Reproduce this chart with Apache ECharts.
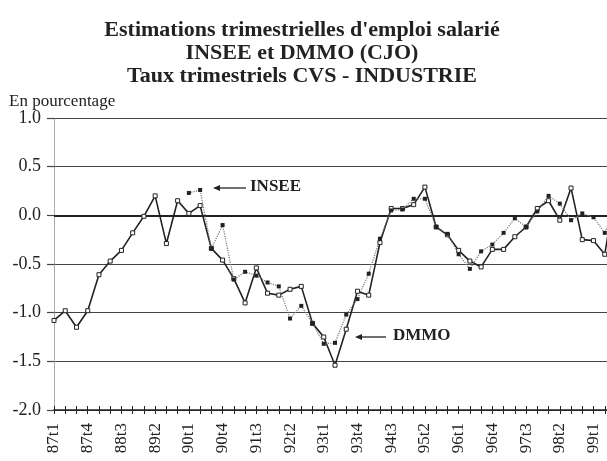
<!DOCTYPE html>
<html>
<head>
<meta charset="utf-8">
<script src="https://cdn.jsdelivr.net/npm/echarts@6/dist/echarts.min.js"></script>
<style>
  html, body { margin: 0; padding: 0; background: #fff; }
  #chart { width: 607px; height: 461px; }
</style>
</head>
<body>
<div id="chart"></div>
<script>
// quarters 87t1 .. 99t3 (the last one falls off the right edge, as in the scan)
const quarters = [
  '87t1', '87t2', '87t3', '87t4', '88t1', '88t2', '88t3', '88t4',
  '89t1', '89t2', '89t3', '89t4', '90t1', '90t2', '90t3', '90t4',
  '91t1', '91t2', '91t3', '91t4', '92t1', '92t2', '92t3', '92t4',
  '93t1', '93t2', '93t3', '93t4', '94t1', '94t2', '94t3', '94t4',
  '95t1', '95t2', '95t3', '95t4', '96t1', '96t2', '96t3', '96t4',
  '97t1', '97t2', '97t3', '97t4', '98t1', '98t2', '98t3', '98t4',
  '99t1', '99t2', '99t3'
];

// DMMO : trait plein, carrés vides
const dmmo = [
  -1.08, -0.98, -1.15, -0.98, -0.61, -0.47, -0.36, -0.18,
  -0.01, 0.20, -0.29, 0.15, 0.02, 0.10, -0.34, -0.46,
  -0.65, -0.90, -0.54, -0.80, -0.82, -0.76, -0.73, -1.11,
  -1.25, -1.54, -1.17, -0.78, -0.82, -0.28, 0.07, 0.07,
  0.11, 0.29, -0.12, -0.20, -0.36, -0.47, -0.53, -0.35,
  -0.35, -0.22, -0.12, 0.07, 0.15, -0.05, 0.28, -0.25,
  -0.26, -0.40, 0.30
];

// INSEE : pointillés, carrés pleins (commence en 90t1)
const insee = [
  null, null, null, null, null, null, null, null,
  null, null, null, null, 0.23, 0.26, -0.34, -0.10,
  -0.66, -0.58, -0.62, -0.69, -0.73, -1.06, -0.93, -1.11,
  -1.32, -1.31, -1.02, -0.86, -0.60, -0.24, 0.05, 0.06,
  0.17, 0.17, -0.12, -0.19, -0.40, -0.55, -0.37, -0.30,
  -0.18, -0.03, -0.12, 0.04, 0.20, 0.12, -0.05, 0.02,
  -0.02, -0.18, 0.10
];

const titleLines = [
  "Estimations trimestrielles d'emploi salarié",
  'INSEE et DMMO (CJO)',
  'Taux trimestriels CVS - INDUSTRIE'
];

const serif = '"Liberation Serif", "DejaVu Serif", serif';
const ink = '#222';

const chart = echarts.init(document.getElementById('chart'));

const arrow = (x1, x2, y) => [
  {
    type: 'line',
    shape: { x1: x1 + 5, y1: y, x2: x2, y2: y },
    style: { stroke: ink, lineWidth: 1.3 }
  },
  {
    type: 'polygon',
    shape: { points: [[x1, y], [x1 + 7, y - 3], [x1 + 7, y + 3]] },
    style: { fill: ink }
  }
];

const option = {
  backgroundColor: '#fff',
  animation: false,
  title: {
    text: titleLines.join('\n'),
    left: 297,
    textAlign: 'center',
    top: 14,
    textStyle: {
      fontFamily: serif,
      fontWeight: 'bold',
      fontSize: 22,
      lineHeight: 23,
      color: ink
    }
  },
  grid: {
    left: 54, width: 562, top: 118, height: 292,
    containLabel: false, outerBoundsMode: 'none'
  },
  xAxis: [
    {
      type: 'category',
      position: 'bottom',
      boundaryGap: false,
      data: quarters,
      axisLine: { onZero: false, lineStyle: { color: ink, width: 1.5 } },
      axisTick: { interval: 0, length: 4, lineStyle: { color: ink, width: 1 } },
      axisLabel: {
        interval: 2,
        rotate: 90,
        margin: 13,
        fontFamily: serif,
        fontSize: 17,
        color: ink
      },
      splitLine: { show: false }
    },
    {
      type: 'category',
      position: 'bottom',
      boundaryGap: false,
      data: quarters,
      axisLine: { show: false, onZero: false },
      axisTick: { inside: true, interval: 0, length: 4, lineStyle: { color: ink, width: 1 } },
      axisLabel: { show: false },
      splitLine: { show: false }
    }
  ],
  yAxis: {
    type: 'value',
    min: -2,
    max: 1,
    interval: 0.5,
    axisLine: { show: true, lineStyle: { color: '#999', width: 1, type: 'dotted' } },
    axisTick: { show: true, length: 7, lineStyle: { color: '#444', width: 1.2 } },
    axisLabel: {
      margin: 13,
      fontFamily: serif,
      fontSize: 18,
      color: ink,
      formatter: v => v.toFixed(1)
    },
    splitLine: { lineStyle: { color: '#444', width: 1.2 } }
  },
  series: [
    {
      name: 'DMMO',
      type: 'line',
      data: dmmo,
      symbol: 'rect',
      symbolSize: 4,
      showAllSymbol: true,
      itemStyle: { color: '#fff', borderColor: ink, borderWidth: 1 },
      lineStyle: { color: ink, width: 1.6 },
      z: 3,
      markLine: {
        silent: true,
        symbol: 'none',
        label: { show: false },
        lineStyle: { color: ink, width: 2.2, type: 'solid' },
        data: [{ yAxis: 0 }],
        z: 1
      }
    },
    {
      name: 'INSEE',
      type: 'line',
      data: insee,
      symbol: 'rect',
      symbolSize: 4,
      showAllSymbol: true,
      itemStyle: { color: ink, borderWidth: 0 },
      lineStyle: { color: '#777', width: 1.2, type: 'dotted' },
      z: 4
    }
  ],
  graphic: [
    {
      type: 'text',
      left: 9,
      top: 93,
      style: { text: 'En pourcentage', font: '17px ' + serif, fill: ink }
    },
    ...arrow(213, 246, 188),
    {
      type: 'text',
      left: 250,
      top: 178,
      style: { text: 'INSEE', font: 'bold 17px ' + serif, fill: ink }
    },
    ...arrow(355, 386, 337),
    {
      type: 'text',
      left: 393,
      top: 327,
      style: { text: 'DMMO', font: 'bold 17px ' + serif, fill: ink }
    }
  ]
};

chart.setOption(option);
</script>
</body>
</html>
